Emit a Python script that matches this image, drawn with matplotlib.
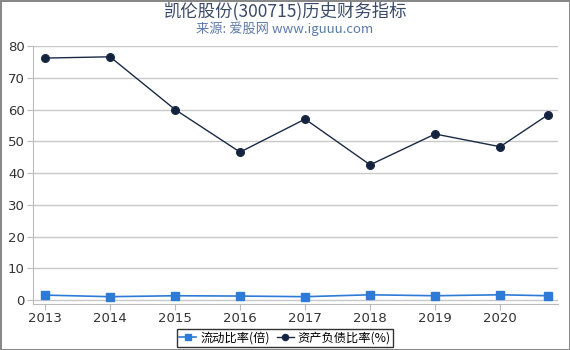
import matplotlib
matplotlib.use("Agg")
import matplotlib.pyplot as plt

plt.rcParams['font.family'] = ['Noto Sans CJK SC', 'DejaVu Sans']

x_pos = [2013, 2014, 2015, 2016, 2017, 2018, 2019, 2020, 2020.74]
tick_years = [2013, 2014, 2015, 2016, 2017, 2018, 2019, 2020]
tick_labels = ['2013', '2014', '2015', '2016', '2017', '2018', '2019', '2020']
current_ratio = [1.6, 1.1, 1.4, 1.3, 1.1, 1.7, 1.4, 1.7, 1.4]
debt_ratio = [76.2, 76.6, 60.0, 46.6, 57.0, 42.6, 52.3, 48.3, 58.4]

fig = plt.figure(figsize=(5.7, 3.5), dpi=100)
fig.patch.set_edgecolor('#888888')
fig.patch.set_linewidth(2)
ax = fig.add_axes([33/570, 1-304/350, (558-33)/570, (304-46)/350])

ax.plot(x_pos, current_ratio, color='#2d7bd6', marker='s', markersize=5.5, linewidth=1.2,
        label='流动比率(倍)')
ax.plot(x_pos, debt_ratio, color='#1a2a44', marker='o', markersize=5.5, linewidth=1,
        label='资产负债比率(%)', markerfacecolor='#13233d')

ax.set_xlim(2012.815, 2020.89)
ax.set_ylim(-1.2, 80)
ax.set_yticks(range(0, 81, 10))
ax.set_xticks(tick_years)
ax.set_xticklabels(tick_labels)
for lbl in ax.get_xticklabels() + ax.get_yticklabels():
    lbl.set_fontfamily('DejaVu Sans')
ax.grid(axis='y', color='#c8c8c8', linewidth=1)
ax.set_axisbelow(True)
for s in ['top', 'right']:
    ax.spines[s].set_visible(False)
for s in ['left', 'bottom']:
    ax.spines[s].set_color('#bbbbbb')
ax.tick_params(colors='#bbbbbb', labelcolor='#333333', labelsize=9.5, length=4, pad=2)

fig.text(0.5, 0.968, '凯伦股份(300715)历史财务指标', ha='center', va='center',
         fontsize=12.5, color='#3a4a68')
fig.text(0.5, 0.918, '来源: 爱股网 www.iguuu.com', ha='center', va='center',
         fontsize=9.5, color='#5a7aa8')

leg = fig.legend(loc='lower center', bbox_to_anchor=(0.5, 0.003), ncol=2, fontsize=8.8,
                 frameon=True, fancybox=False, edgecolor='black', handlelength=1.4,
                 handletextpad=0.3, columnspacing=0.6, borderpad=0.2, markerscale=0.8,
                 borderaxespad=0.2)
leg.get_frame().set_linewidth(1)

fig.savefig('out.png', dpi=100, edgecolor=fig.get_edgecolor())
